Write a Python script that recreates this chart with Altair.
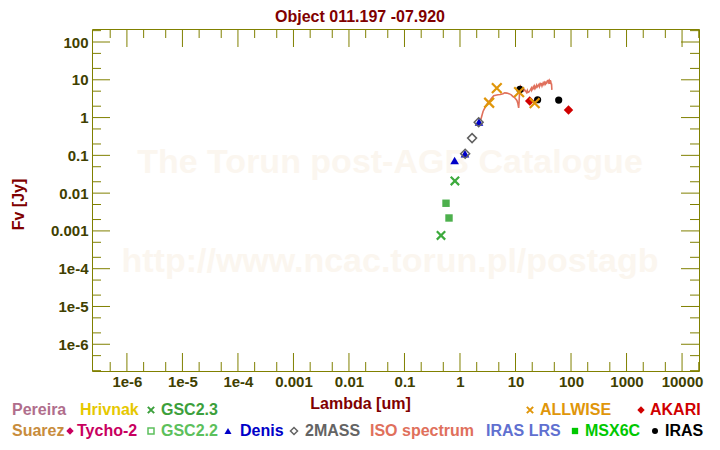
import altair as alt
import pandas as pd

# ---------------- data ----------------
gsc23_wave = [0.455, 0.81]
gsc23_flux = [0.00076, 0.021]
gsc22_wave = [0.56, 0.634]
gsc22_flux = [0.0054, 0.0022]
denis_wave = [0.80, 1.23, 2.2]
denis_flux = [0.073, 0.11, 0.76]
tmass_wave = [1.24, 1.65, 2.17]
tmass_flux = [0.11, 0.286, 0.75]
allwise_wave = [3.35, 4.6, 11.6, 22.1]
allwise_flux = [2.47, 6.04, 4.7, 2.42]
iras_wave = [12.0, 25.0, 60.0]
iras_flux = [5.55, 2.96, 2.9]
akari_wave = [18.0, 90.0]
akari_flux = [2.74, 1.58]

iso_wave = [2.36, 2.45, 2.6, 2.8, 3.0, 3.25, 3.53, 3.8, 4.05, 4.4, 4.83, 5.3,
            5.95, 6.4, 7.0, 7.6, 8.4, 9.0, 9.6, 10.1, 10.6, 11.0, 11.4, 11.6,
            11.9, 12.3, 12.7, 13.0, 13.2, 13.5, 13.8, 14.2, 14.6, 15.2, 15.8,
            16.3, 16.7, 17.3, 18.0, 18.6, 19.3, 19.6, 20.0, 20.8, 21.2, 21.5,
            22.0, 22.5, 23.0, 24.0, 24.5, 25.4, 26.5, 27.0, 27.5, 28.4, 29.2,
            30.0, 30.5, 31.5, 32.5, 33.5, 34.5, 35.5, 36.0, 36.5, 37.5, 38.6,
            39.5, 40.5, 41.0, 41.5, 42.3, 43.1, 44.0, 44.5, 45.2]
iso_flux = [0.87, 1.05, 1.45, 1.8, 2.18, 2.6, 2.96, 3.4, 3.78, 3.9, 4.0, 4.1,
            4.27, 4.5, 4.45, 4.3, 4.0, 3.6, 3.4, 3.1, 2.84, 2.4, 1.8, 2.6,
            5.5, 6.7, 6.2, 5.0, 5.6, 4.8, 6.0, 5.2, 5.45, 5.0, 4.6,
            5.2, 4.6, 4.7, 5.1, 5.5, 6.05, 5.3, 5.6, 6.4, 5.6, 6.0,
            6.7, 5.9, 6.3, 7.2, 6.4, 6.9, 7.6, 6.6, 7.0, 8.0, 7.9,
            6.9, 7.4, 8.3, 7.5, 8.5, 7.8, 9.0, 7.7, 8.2, 9.4, 9.6,
            8.6, 9.3, 7.9, 8.4, 9.8, 9.0, 7.6, 8.0, 5.4]

x_tick_values = [1e-6, 1e-5, 1e-4, 1e-3, 1e-2, 1e-1, 1, 10, 100, 1000, 10000]
x_tick_labels = ["1e-6", "1e-5", "1e-4", "0.001", "0.01", "0.1", "1", "10",
                 "100", "1000", "10000"]
x_minor_values = [5e-7, 2e-6, 5e-6, 2e-5, 5e-5, 2e-4, 5e-4, 2e-3, 5e-3, 2e-2,
                  5e-2, 0.2, 0.5, 2, 5, 20, 50, 200, 500, 2000, 5000, 20000]
y_tick_values = [1e-6, 1e-5, 1e-4, 1e-3, 1e-2, 1e-1, 1, 10, 100]
y_tick_labels = ["1e-6", "1e-5", "1e-4", "0.001", "0.01", "0.1", "1", "10", "100"]
y_minor_values = [2e-7, 5e-7, 2e-6, 5e-6, 2e-5, 5e-5, 2e-4, 5e-4, 2e-3, 5e-3,
                  2e-2, 5e-2, 0.2, 0.5, 2, 5, 20, 50, 200]

legend_labels = ["Pereira", "Hrivnak", "GSC2.3", "ALLWISE", "AKARI",
                 "Suarez", "Tycho-2", "GSC2.2", "Denis", "2MASS",
                 "ISO spectrum", "IRAS LRS", "MSX6C", "IRAS"]
legend_colors = ["#b06e8c", "#e6c800", "#3ca03c", "#e0960a", "#d00000",
                 "#c88c3c", "#c8005f", "#5cc05c", "#0000c8", "#646464",
                 "#e0705c", "#6070d0", "#00c800", "#000000"]
legend_markers = [None, None, "x", "x", "diamond",
                  None, "diamond", "square-open", "triangle-up", "diamond-open",
                  None, None, "square", "circle"]

title_text = "Object 011.197 -07.920"
x_title = "Lambda [um]"
y_title = "Fv [Jy]"
watermark_lines = ["The Torun post-AGB Catalogue", "http://www.ncac.torun.pl/postagb"]

# ---------------- layout ----------------
W, H = 607, 342
OX, OY = 92, 29  # plot origin on the page
FONT = "Liberation Sans"
FRAME = "#808000"
LABEL = "#404000"
DARKRED = "#800000"
XPATH = "M-1,-1L1,1M-1,1L1,-1"

# legend layout (page pixels): text left, marker centre, row y
legend_text_x = [12, 80, 161, 540, 650, 12, 77, 161, 240, 305, 370, 486, 585, 665]
legend_marker_x = [0, 0, 151, 530, 641, 0, 70, 151, 228, 294, 0, 0, 575, 655]
legend_row_y = [410, 410, 410, 410, 410, 431, 431, 431, 431, 431, 431, 431, 431, 431]

xs = alt.Scale(type="log", domain=[2.35e-7, 2.02e4])
ys = alt.Scale(type="log", domain=[1.96e-7, 221])

x_label_expr = "%s[round(log(datum.value)/LN10)+6]" % str(x_tick_labels)
y_label_expr = "%s[round(log(datum.value)/LN10)+6]" % str(y_tick_labels)

x_axis = alt.Axis(
    values=x_tick_values, labelExpr=x_label_expr, ticks=False,
    domain=False, grid=False, labelFont=FONT, labelFontSize=15,
    labelFontWeight="bold", labelColor=LABEL, labelPadding=3,
    title=x_title, titleFont=FONT, titleFontSize=16,
    titleFontWeight="bold", titleColor=DARKRED,
    titleX=360 - OX, titleY=403 - (OY + H), titleBaseline="middle",
    titleAlign="center", labelFlush=False, labelOverlap=False)
y_axis = alt.Axis(
    values=y_tick_values, labelExpr=y_label_expr, ticks=False,
    domain=False, grid=False, labelFont=FONT, labelFontSize=15,
    labelFontWeight="bold", labelColor=LABEL, labelPadding=4,
    title=y_title, titleFont=FONT, titleFontSize=16,
    titleFontWeight="bold", titleColor=DARKRED,
    titleX=18 - OX, titleY=204 - OY, titleBaseline="middle",
    titleAlign="center", titleAngle=270, labelFlush=False,
    labelOverlap=False)


def pts(w, f):
    return pd.DataFrame({"wave": w, "flux": f})


def X():
    return alt.X("wave:Q", scale=xs, axis=x_axis)


def Y():
    return alt.Y("flux:Q", scale=ys, axis=y_axis)


layers = []

# watermark
wm = pd.DataFrame({"t": watermark_lines})
for i, wy in enumerate([163, 262]):
    layers.append(alt.Chart(wm.iloc[[i]]).mark_text(
        font=FONT, fontSize=34, fontWeight="bold", color="#fbf6ef",
        baseline="middle", align="center").encode(
        text="t:N", x=alt.value(390 - OX), y=alt.value(wy - OY)))

# tick marks (inward, on all four sides)
xt_major = pd.DataFrame({"wave": x_tick_values})
xt_minor = pd.DataFrame({"wave": x_minor_values})
yt_major = pd.DataFrame({"flux": y_tick_values})
yt_minor = pd.DataFrame({"flux": y_minor_values})
for df, L in [(xt_major, 18), (xt_minor, 9)]:
    layers.append(alt.Chart(df).mark_rule(color=FRAME, strokeWidth=1).encode(
        x=X(), y=alt.value(H), y2=alt.value(H - L)))
    layers.append(alt.Chart(df).mark_rule(color=FRAME, strokeWidth=1).encode(
        x=X(), y=alt.value(0), y2=alt.value(L)))
for df, L in [(yt_major, 18), (yt_minor, 9)]:
    layers.append(alt.Chart(df).mark_rule(color=FRAME, strokeWidth=1).encode(
        y=Y(), x=alt.value(0), x2=alt.value(L)))
    layers.append(alt.Chart(df).mark_rule(color=FRAME, strokeWidth=1).encode(
        y=Y(), x=alt.value(W), x2=alt.value(W - L)))

# ISO spectrum
layers.append(alt.Chart(pts(iso_wave, iso_flux)).mark_line(
    color="#e0705c", strokeWidth=1.6).encode(x=X(), y=Y()))

# photometry
def P(w, f, **kw):
    return alt.Chart(pts(w, f)).mark_point(opacity=1, **kw).encode(x=X(), y=Y())

layers.append(P(gsc23_wave, gsc23_flux, shape=XPATH, filled=False,
                stroke="#3caa3c", strokeWidth=2.2, size=70))
layers.append(P(gsc22_wave, gsc22_flux, shape="square", filled=True,
                color="#4db04d", size=55))
layers.append(P(iras_wave, iras_flux, shape="circle", filled=True,
                color="#000000", size=52))
layers.append(P(akari_wave, akari_flux, shape="diamond", filled=True,
                color="#d00000", size=90))
layers.append(P(denis_wave, denis_flux, shape="triangle-up", filled=True,
                color="#0000c8", size=75))
layers.append(P(tmass_wave, tmass_flux, shape="diamond", filled=False,
                stroke="#606060", strokeWidth=1.5, size=80))
layers.append(P(allwise_wave, allwise_flux, shape=XPATH, filled=False,
                stroke="#e0960a", strokeWidth=2.2, size=95))

# title
layers.append(alt.Chart(pd.DataFrame({"t": [title_text]})).mark_text(
    font=FONT, fontSize=16, fontWeight="bold", color=DARKRED,
    baseline="top", align="center").encode(
    text="t:N", x=alt.value(360 - OX), y=alt.value(8.5 - OY)))

# legend texts
for lab, col, tx, ry in zip(legend_labels, legend_colors, legend_text_x, legend_row_y):
    layers.append(alt.Chart(pd.DataFrame({"t": [lab]})).mark_text(
        font=FONT, fontSize=16, fontWeight="bold", color=col,
        baseline="middle", align="left").encode(
        text="t:N", x=alt.value(tx - OX), y=alt.value(ry - OY)))

# legend markers
marker_styles = {
    "x": dict(shape=XPATH, filled=False, strokeWidth=2, size=40),
    "diamond": dict(shape="diamond", filled=True, size=55),
    "square-open": dict(shape="square", filled=False, strokeWidth=1.5, size=36),
    "triangle-up": dict(shape="triangle-up", filled=True, size=50),
    "diamond-open": dict(shape="diamond", filled=False, strokeWidth=1.5, size=50),
    "square": dict(shape="square", filled=True, size=40),
    "circle": dict(shape="circle", filled=True, size=36),
}
for mk, col, mx, ry in zip(legend_markers, legend_colors, legend_marker_x, legend_row_y):
    if mk is None:
        continue
    st = dict(marker_styles[mk])
    layers.append(alt.Chart(pd.DataFrame({"t": [mk]})).mark_point(
        color=col, opacity=1, **st).encode(
        x=alt.value(mx - OX), y=alt.value(ry - OY)))

chart = alt.layer(*layers).properties(
    width=W, height=H,
    autosize=alt.AutoSizeParams(type="none"),
    padding={"left": OX - 8, "top": OY - 8, "right": 704 - (OX - 8) - W,
             "bottom": 434 - (OY - 8) - H},
    background="white",
).configure_view(stroke=FRAME, strokeWidth=1)

chart.save("out.html", embed_options={"renderer": "svg", "actions": False})
